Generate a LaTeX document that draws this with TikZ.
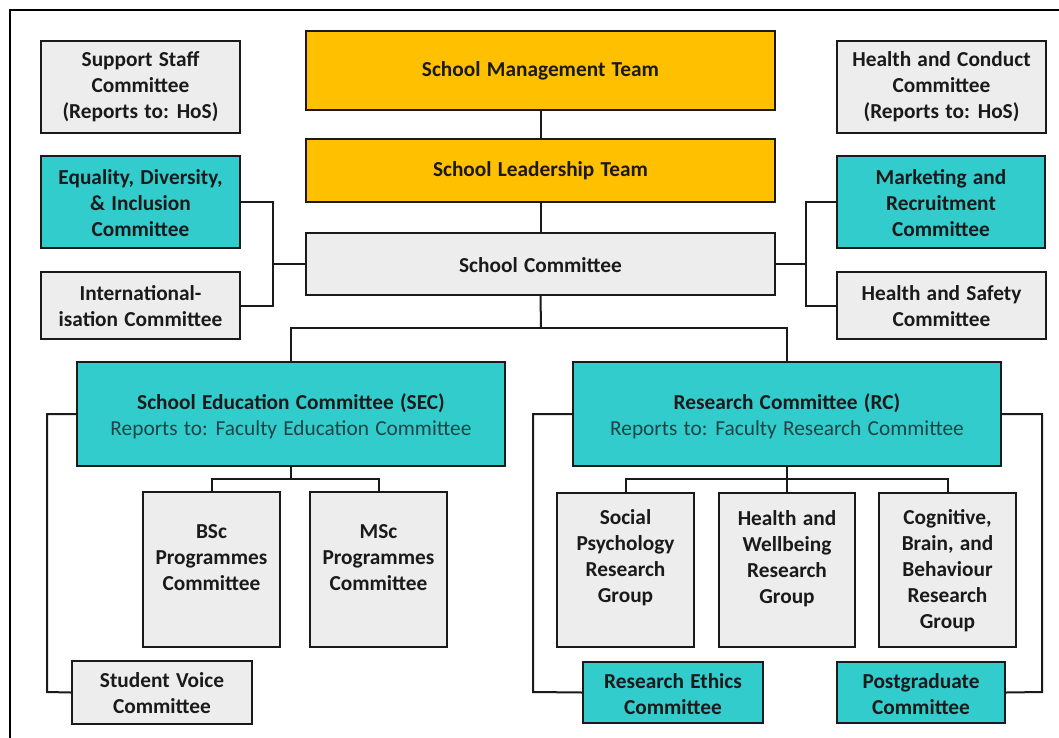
\documentclass[tikz,border=0pt]{standalone}
\usepackage{fontspec}
\setmainfont{Carlito}[WordSpace=1.3]
\usetikzlibrary{fit}

\definecolor{gold}{HTML}{FFC000}
\definecolor{aqua}{HTML}{33CCCC}
\definecolor{paper}{HTML}{EDEDED}
\definecolor{ink}{HTML}{1A1A1A}
\definecolor{note}{HTML}{1E4446}

\tikzset{
  unit/.style={draw=ink, line width=1.7pt, inner sep=0pt},
  greybox/.style={unit, fill=paper},
  goldbox/.style={unit, fill=gold},
  aquabox/.style={unit, fill=aqua},
  lbl/.style={align=center, font=\fontsize{16}{19.5}\selectfont\bfseries, text=ink, inner sep=0pt},
  wire/.style={draw=ink, line width=1.5pt},
}

% box from (x1,y1) to (x2,y2) in pixel units; text centred at height #8
\newcommand\unitbox[8]{%
  \node[#6, fit={(#2,#3) (#4,#5)}] (#1) {};
  \node[lbl] (#1-t) at ({(#2+#4)/2},#8) {#7};
}

\begin{document}
\begin{tikzpicture}[x=0.75pt,y=-0.75pt]
\path[use as bounding box] (0,0) rectangle (1059,738);

% outer frame
\draw[line width=1.6pt, black] (10,738) -- (10,10) -- (1059,10);

% top management
\unitbox{sm}{306}{31}{775}{110}{goldbox}{School Management Team}{71}
\unitbox{sl}{306}{139}{775}{202}{goldbox}{School Leadership Team}{171}
\unitbox{sc}{306}{233}{775}{295}{greybox}{School Committee}{265}

% left column
\unitbox{ss}{41}{41}{240}{133}{greybox}{Support Staff\\Committee\\(Reports to: HoS)}{87}
\unitbox{eq}{41}{156}{240}{248}{aquabox}{Equality, Diversity,\\\& Inclusion\\Committee}{203}
\unitbox{intl}{41}{272}{240}{339}{greybox}{International-\\isation Committee}{306}

% right column
\unitbox{hc}{837}{41}{1046}{133}{greybox}{Health and Conduct\\Committee\\(Reports to: HoS)}{87}
\unitbox{mk}{837}{156}{1045}{248}{aquabox}{Marketing and\\Recruitment\\Committee}{203}
\unitbox{hs}{837}{272}{1046}{339}{greybox}{Health and Safety\\Committee}{306}

% education and research committees
\unitbox{sec}{77}{362}{505}{466}{aquabox}{School Education Committee (SEC)\\{\mdseries\color{note}Reports to: Faculty Education Committee}}{416}
\unitbox{rc}{573}{362}{1001}{466}{aquabox}{Research Committee (RC)\\{\mdseries\color{note}Reports to: Faculty Research Committee}}{416}

% programme committees
\unitbox{bsc}{143}{492}{280}{647}{greybox}{BSc\\Programmes\\Committee}{558}
\unitbox{msc}{310}{492}{447}{647}{greybox}{MSc\\Programmes\\Committee}{558}
\unitbox{sv}{72}{661}{252}{724}{greybox}{Student Voice\\Committee}{693}

% research groups
\unitbox{sp}{557}{493}{694}{647}{greybox}{Social\\Psychology\\Research\\Group}{558}
\unitbox{hw}{719}{493}{855}{647}{greybox}{Health and\\Wellbeing\\Research\\Group}{559}
\unitbox{cb}{879}{493}{1016}{647}{greybox}{Cognitive,\\Brain, and\\Behaviour\\Research\\Group}{571}
\unitbox{re}{583}{662}{763}{723}{aquabox}{Research Ethics\\Committee}{694}
\unitbox{pg}{837}{662}{1005}{723}{aquabox}{Postgraduate\\Committee}{694}

% junction points
\coordinate (lbus) at (273,264);
\coordinate (rbus) at (806,264);
\coordinate (split) at (541,328);
\coordinate (secsplit) at (291,479);
\coordinate (rcsplit) at (787,479);
\coordinate (svturn) at (47,692);
\coordinate (returnpt) at (533,692);
\coordinate (pgturn) at (1042,692);

% connectors
\draw[wire] (sm.south) -- (sl.north);
\draw[wire] (sl.south) -- (sc.north);
\draw[wire] (eq.east) -| (lbus) |- (intl.east);
\draw[wire] (sc.west) -- (lbus);
\draw[wire] (mk.west) -| (rbus) |- (hs.west);
\draw[wire] (sc.east) -- (rbus);
\draw[wire] (sc.south) -- (split);
\draw[wire] (sec.north) |- (split) -| (rc.north);
\draw[wire] (sec.south) -- (secsplit);
\draw[wire] (bsc.north) |- (secsplit) -| (msc.north);
\draw[wire] (rc.south) -- (hw.north);
\draw[wire] (sp.north) |- (rcsplit) -| (cb.north);
\draw[wire] (sec.west) -| (svturn) -- (sv.west);
\draw[wire] (rc.west) -| (returnpt) -- (re.west);
\draw[wire] (rc.east) -| (pgturn) -- (pg.east);
\end{tikzpicture}
\end{document}
